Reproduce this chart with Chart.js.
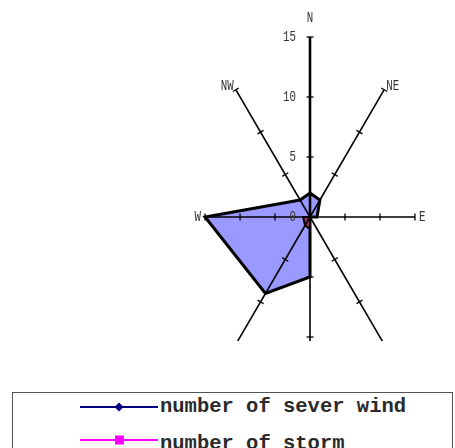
<!DOCTYPE html>
<html><head><meta charset="utf-8">
<script src="https://cdn.jsdelivr.net/npm/chart.js@4"></script>
<style>
html,body{margin:0;padding:0;background:#fff;width:455px;height:448px;overflow:hidden;position:relative}
#plotWrap{position:absolute;left:0;top:0;width:455px;height:341px;overflow:hidden}
#c{position:absolute;left:0;top:0}
#legend{position:absolute;left:12px;top:392px;width:441px;height:90px;border:1px solid #555;box-sizing:border-box;background:#fff}
.item{position:absolute;left:0;width:100%;height:24px}
.item svg{position:absolute;left:67px;top:6px}
.item span{position:absolute;left:147px;line-height:24px;font:bold 20.5px 'Liberation Mono','Courier New',monospace;color:#2a2a2a;white-space:nowrap}
</style></head>
<body>
<div id="plotWrap"><canvas id="c" width="500" height="410"></canvas></div>
<div id="legend"></div>
<script>
const directions = ['N','NE','E','SE','S','SW','W','NW'];
const severeWind = [2, 2, 1, 0, 5, 9, 15, 2];
const storm = [0, 0, 0, 0, 1, 1, 1, 0];
const seriesNames = ['number of sever wind', 'number of storm'];
const tickValues = [0, 5, 10, 15];

const SQUASH = 0.583;
class SquashedRadialScale extends Chart.RadialLinearScale {
  static id = 'squashedRadial';
  static defaults = Chart.RadialLinearScale.defaults;
  getPointPosition(index, distanceFromCenter, additionalAngle = 0) {
    const p = super.getPointPosition(index, distanceFromCenter, additionalAngle);
    return {x: this.xCenter + (p.x - this.xCenter) * SQUASH, y: p.y, angle: p.angle};
  }
}
Chart.register(SquashedRadialScale);

function squishText(ctx, str, x, y, align) {
  ctx.save();
  ctx.translate(x, y);
  ctx.scale(0.72, 1);
  ctx.textAlign = align;
  ctx.textBaseline = 'middle';
  ctx.fillText(str, 0, 0);
  ctx.restore();
}

const overlayPlugin = {
  id: 'overlay',
  afterDraw(chart) {
    const s = chart.scales.r;
    const ctx = chart.ctx;
    const cx = s.xCenter, cy = s.yCenter;
    ctx.save();
    ctx.strokeStyle = '#000';
    ctx.lineWidth = 1.3;
    ctx.fillStyle = '#333';
    ctx.font = "15px 'Liberation Mono', monospace";
    directions.forEach((d, i) => {
      const end = s.getPointPositionForValue(i, s.max);
      let ux = end.x - cx, uy = end.y - cy;
      const L = Math.hypot(ux, uy); ux /= L; uy /= L;
      tickValues.forEach(v => {
        if (v <= 0) return;
        const p = s.getPointPositionForValue(i, v);
        ctx.beginPath();
        ctx.moveTo(p.x - uy * 3.5, p.y + ux * 3.5);
        ctx.lineTo(p.x + uy * 3.5, p.y - ux * 3.5);
        ctx.stroke();
      });
      let align = ux > 0.1 ? 'left' : (ux < -0.1 ? 'right' : 'center');
      let off = Math.abs(ux) < 0.1 ? 19 : 4;
      squishText(ctx, d, end.x + ux * off, end.y + uy * off, align);
    });
    tickValues.forEach(v => {
      const p = s.getPointPositionForValue(0, v);
      squishText(ctx, String(v), cx - 14, p.y, 'right');
    });
    ctx.restore();
  }
};

new Chart(document.getElementById('c'), {
  type: 'radar',
  data: {
    labels: directions,
    datasets: [
      {label: seriesNames[0], data: severeWind, backgroundColor: '#9999FF', borderColor: '#000', borderWidth: 3, pointRadius: 0, fill: true, order: 1},
      {label: seriesNames[1], data: storm, backgroundColor: '#993366', borderColor: '#000', borderWidth: 2, pointRadius: 0, fill: true, order: 0}
    ]
  },
  options: {
    responsive: false,
    devicePixelRatio: 1,
    animation: false,
    layout: {padding: {left: 130, right: 10, top: 37, bottom: 13}},
    plugins: {legend: {display: false}, tooltip: {enabled: false}},
    elements: {line: {tension: 0}},
    scales: {
      r: {
        type: 'squashedRadial',
        min: 0, max: 15,
        ticks: {display: false, stepSize: 5},
        grid: {display: false, z: 1},
        pointLabels: {display: false},
        angleLines: {display: true, color: '#000', lineWidth: (c) => c.index === 0 ? 2.6 : 1.6}
      }
    }
  },
  plugins: [overlayPlugin]
});

// HTML legend
const legendColors = [{line: '#000080', marker: 'diamond'}, {line: '#FF00FF', marker: 'square'}];
const legend = document.getElementById('legend');
seriesNames.forEach((name, i) => {
  const item = document.createElement('div');
  item.className = 'item';
  item.style.top = (2 + i * 33) + 'px';
  const col = legendColors[i].line;
  const marker = legendColors[i].marker === 'diamond'
    ? `<polygon points="39,1.5 43.5,6 39,10.5 34.5,6" fill="${col}"/>`
    : `<rect x="35" y="1.5" width="9" height="9" fill="${col}"/>`;
  item.innerHTML = `<svg width="78" height="12" viewBox="0 0 78 12"><line x1="0" y1="6" x2="78" y2="6" stroke="${col}" stroke-width="2.2"/>${marker}</svg><span style="top:${i * 4}px">${name}</span>`;
  legend.appendChild(item);
});
</script>
</body></html>
